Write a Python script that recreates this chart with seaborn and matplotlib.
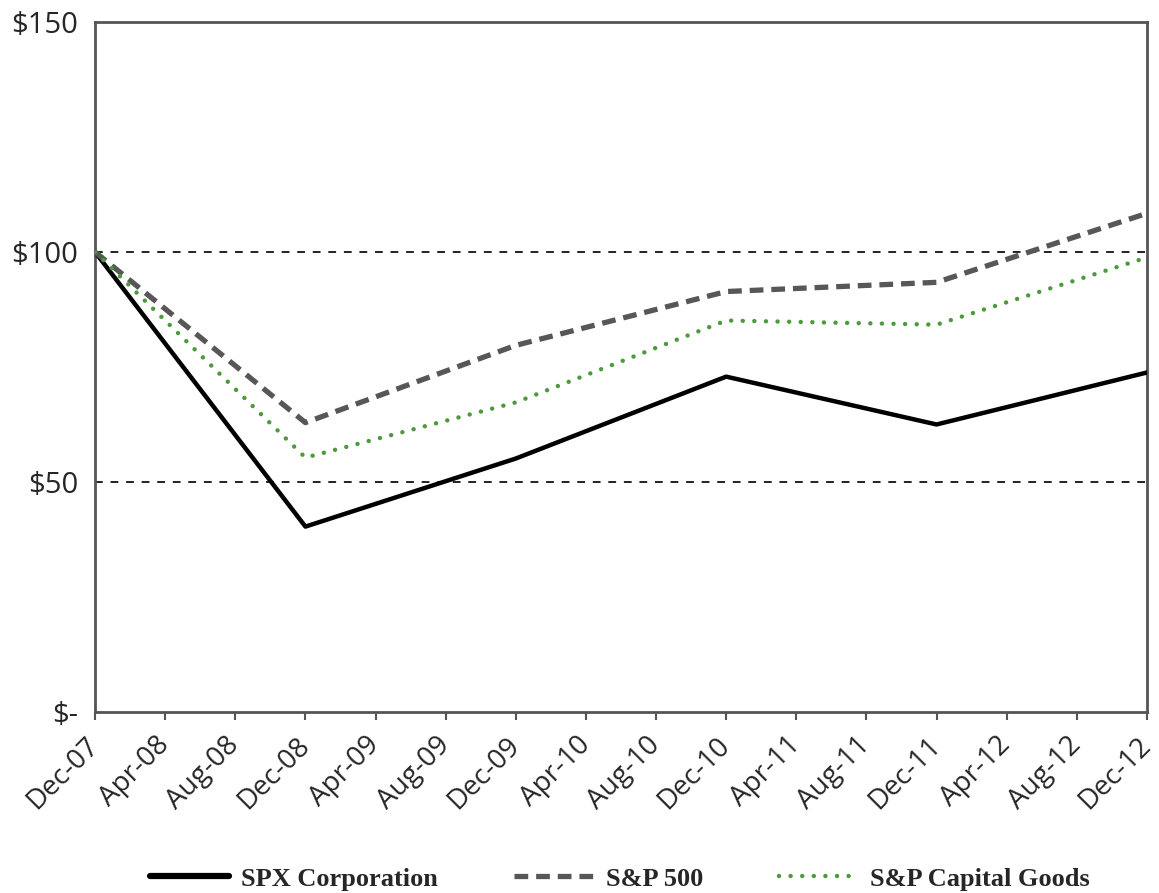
import numpy as np
import pandas as pd
import matplotlib
matplotlib.use("Agg")
import matplotlib.pyplot as plt
import seaborn as sns

# months since Dec-07 for each year-end observation
months = [0, 12, 24, 36, 48, 60]
spx = [100, 40.3, 55.1, 72.9, 62.5, 73.8]
sp500 = [100, 62.9, 79.7, 91.4, 93.4, 108.4]
cap_goods = [100, 55.3, 67.3, 85.1, 84.2, 98.8]

series_names = ["SPX Corporation", "S&P 500", "S&P Capital Goods"]
tick_labels = ["Dec-07", "Apr-08", "Aug-08", "Dec-08", "Apr-09", "Aug-09",
               "Dec-09", "Apr-10", "Aug-10", "Dec-10", "Apr-11", "Aug-11",
               "Dec-11", "Apr-12", "Aug-12", "Dec-12"]
y_ticks = [0, 50, 100, 150]
y_tick_labels = ["$-", "$50", "$100", "$150"]

df = pd.DataFrame({
    "month": months * 3,
    "value": spx + sp500 + cap_goods,
    "series": np.repeat(series_names, len(months)),
})

sns.set_theme(style="white")
plt.rcParams["font.family"] = ["Open Sans", "DejaVu Sans"]

fig = plt.figure(figsize=(11.59, 8.93), dpi=100)
ax = fig.add_axes([0.082, 0.2027, 0.9076, 0.7727])

green = "#4c9a3c"
colors = {"SPX Corporation": "black", "S&P 500": "#575757",
          "S&P Capital Goods": green}
sns.lineplot(data=df, x="month", y="value", hue="series", palette=colors,
             ax=ax, legend=False)

dash_style = (0, (2.6, 1.5))
dot_style = (0, (0.01, 2.6))
styles = {
    "SPX Corporation": dict(lw=3.2, ls="-"),
    "S&P 500": dict(lw=3.8, ls=dash_style),
    "S&P Capital Goods": dict(lw=3.2, ls=dot_style),
}
for line, name in zip(ax.get_lines(), series_names):
    line.set_linewidth(styles[name]["lw"])
    line.set_linestyle(styles[name]["ls"])
    if name == "S&P Capital Goods":
        line.set_dash_capstyle("round")
    line.set_zorder(3)

for yv in [50, 100]:
    ax.axhline(yv, color="#222222", lw=1.4, ls=(0, (4, 4)), zorder=1)

ax.set_xlim(0, 60)
ax.set_ylim(0, 150)
ax.set_xticks(np.arange(0, 61, 4))
ax.set_xticklabels(tick_labels, rotation=45, ha="right", va="center",
                   rotation_mode="anchor", fontsize=20)
ax.set_yticks(y_ticks)
ax.set_yticklabels(y_tick_labels, fontsize=21)
ax.tick_params(axis="x", direction="out", length=6, width=1.5, color="#555555",
               bottom=True, pad=15)
ax.tick_params(axis="y", length=0, pad=12)
ax.set_xlabel("")
ax.set_ylabel("")
for sp in ax.spines.values():
    sp.set_color("#555555")
    sp.set_linewidth(2)

handles = [
    plt.Line2D([], [], color="black", lw=4.5, ls="-"),
    plt.Line2D([], [], color="#575757", lw=3.8, ls=dash_style),
    plt.Line2D([], [], color=green, lw=3.2, ls=dot_style, dash_capstyle="round"),
]
fig.legend(handles, series_names, loc="lower center", bbox_to_anchor=(0.535, -0.024),
           ncol=3, frameon=False, handlelength=3.0, handletextpad=0.45,
           columnspacing=2.9,
           prop={"family": "Liberation Serif", "weight": "bold", "size": 19})

fig.savefig("out.png", dpi=100)
